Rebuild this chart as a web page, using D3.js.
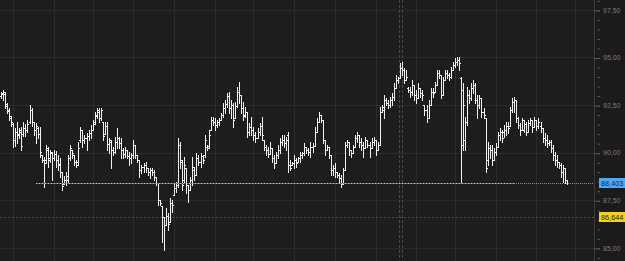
<!DOCTYPE html>
<html>
<head>
<meta charset="utf-8">
<script src="https://cdn.jsdelivr.net/npm/d3@7"></script>
<style>
  html, body { margin: 0; padding: 0; background: #1d1d1d; }
  svg { display: block; }
</style>
</head>
<body>
<svg id="chart" width="625" height="261"></svg>
<script>
// daily OHLC
const opens = [
  92.98,93.08,93.08,92.56,92.24,91.82,91.51,90.67,91.09,90.93,91.19,90.98,91.30,91.19,91.61,92.24,91.61,91.19,91.30,90.98,
  89.88,89.62,89.62,90.14,89.72,89.98,89.72,89.93,89.62,89.41,88.99,88.36,88.57,88.57,89.72,90.14,89.88,89.51,89.51,90.67,
  91.19,90.67,90.77,90.88,91.03,91.19,91.51,91.93,92.14,91.82,91.61,90.98,91.40,90.46,90.56,90.14,90.04,90.56,90.77,90.51,
  90.14,89.93,90.14,89.83,89.72,89.88,90.40,89.88,89.62,89.09,89.25,89.35,89.20,88.99,89.09,88.99,88.72,88.41,87.52,87.20,
  86.62,86.20,86.68,86.36,87.36,87.78,88.15,88.30,90.40,89.62,88.57,89.20,88.30,88.04,88.57,89.09,88.83,89.72,89.51,89.83,
  89.88,90.30,90.35,91.19,91.72,91.61,91.45,91.61,91.72,91.98,92.35,92.56,92.98,92.35,92.51,91.82,92.45,93.19,93.03,92.35,
  91.98,92.14,91.09,91.35,91.19,90.93,90.77,91.09,91.40,90.67,90.30,90.14,89.93,90.25,89.72,89.46,89.88,90.14,90.56,90.67,
  90.51,90.93,89.35,89.35,89.46,89.62,89.51,89.72,89.88,89.98,90.30,90.14,90.04,90.30,90.35,91.09,91.61,91.98,91.72,90.67,
  90.14,90.30,89.88,89.09,89.20,88.99,88.83,88.67,88.36,89.09,90.40,90.56,90.14,89.98,90.30,90.77,90.93,90.56,90.40,90.25,
  90.67,90.40,90.25,90.56,90.67,90.14,90.40,92.14,92.24,92.77,92.61,92.51,92.77,92.93,93.40,93.82,93.92,94.45,94.34,93.82,
  93.40,93.29,93.19,93.56,93.03,92.87,93.40,93.14,92.51,92.24,91.82,92.51,93.19,93.19,93.56,94.19,94.08,93.03,93.82,94.19,
  94.08,93.98,94.34,94.61,94.76,94.87,93.92,90.40,90.67,91.61,93.03,92.87,93.40,93.56,92.77,92.51,92.87,92.14,91.82,89.62,
  90.25,90.14,89.62,90.04,90.30,90.93,91.09,91.09,91.19,91.40,91.40,92.24,92.66,92.77,91.82,91.45,91.19,91.19,91.51,91.09,
  91.56,91.72,91.35,91.72,91.40,91.40,91.30,90.77,90.67,90.51,90.56,90.25,89.88,89.62,89.51,89.35,88.99,89.20,88.57
];
const highs = [
  93.19,93.29,93.19,92.61,92.35,91.93,91.56,91.30,91.61,91.30,91.35,91.61,91.51,91.72,92.51,92.35,91.61,91.56,91.35,91.35,
  89.88,89.77,90.40,90.30,90.14,90.04,90.14,90.09,89.88,89.72,88.99,88.78,88.99,89.88,90.40,90.14,89.88,89.62,90.56,91.35,
  91.19,90.93,91.03,91.19,91.45,91.72,92.14,92.35,92.35,92.35,91.61,91.61,91.61,90.77,90.67,90.30,90.82,91.30,90.82,90.77,
  90.25,90.30,90.14,90.04,89.98,90.67,90.40,89.88,89.62,89.35,89.46,89.51,89.20,89.20,89.20,89.09,88.72,88.41,87.52,87.20,
  86.62,87.10,86.83,87.62,87.52,88.41,88.46,90.77,90.56,89.62,89.77,89.20,88.30,88.72,89.77,89.25,89.98,89.88,89.98,89.88,
  90.93,90.40,91.19,91.88,91.88,91.82,91.72,91.82,92.09,92.61,92.77,93.14,93.19,92.77,92.61,92.66,93.45,93.71,93.03,92.66,
  92.40,92.14,91.56,91.88,91.35,91.09,91.30,91.56,91.88,90.67,90.40,90.30,90.56,90.25,89.88,90.04,90.40,90.77,90.93,90.93,
  90.82,91.09,89.62,89.51,89.88,89.72,89.77,90.04,90.04,90.51,90.30,90.25,90.56,90.51,91.35,91.82,92.14,91.98,91.72,90.67,
  90.40,90.30,89.88,89.35,89.46,88.99,88.93,88.83,89.20,90.56,90.67,90.56,90.14,90.40,90.93,91.09,90.93,90.77,90.56,90.82,
  90.67,90.56,90.77,90.82,90.67,90.56,92.40,92.51,93.03,92.87,92.77,92.93,93.14,93.66,94.08,93.98,94.71,94.76,94.45,94.34,
  93.45,93.45,93.82,93.56,93.29,93.66,93.40,93.29,92.51,92.51,92.77,93.40,93.40,93.71,94.34,94.34,94.08,93.98,94.34,94.34,
  94.19,94.50,94.76,94.97,95.03,95.03,93.98,93.66,91.88,93.45,93.29,93.66,93.82,93.66,93.03,93.03,92.87,92.35,91.82,90.56,
  90.40,90.40,90.25,90.51,91.09,91.30,91.19,91.45,91.61,91.61,92.40,92.87,92.93,92.77,91.88,91.56,91.82,91.72,91.61,91.72,
  91.82,91.72,91.88,91.72,91.82,91.61,91.30,91.03,90.93,90.67,90.67,90.40,90.04,89.88,89.51,89.46,89.35,89.20,88.57
];
const lows = [
  92.87,92.77,92.35,92.09,91.72,91.40,90.30,90.35,90.51,90.77,90.14,90.88,90.88,91.09,91.56,91.40,90.93,90.51,90.77,89.77,
  89.51,88.20,89.46,89.25,89.51,88.57,89.62,89.25,89.09,88.72,88.04,88.36,88.30,88.41,89.62,89.72,89.35,89.25,89.35,90.56,
  90.30,90.51,90.14,90.67,90.77,91.19,91.51,91.82,91.61,91.72,90.67,90.98,90.14,89.98,89.20,89.88,89.98,90.25,90.25,89.72,
  89.72,89.77,89.72,89.35,89.46,89.72,89.72,89.51,88.72,88.93,88.99,88.99,88.83,88.67,88.83,88.57,88.30,87.25,87.25,85.31,
  84.89,86.20,85.94,86.36,86.89,87.78,87.94,88.20,89.20,88.04,88.41,87.88,87.41,88.04,88.30,88.57,88.83,89.35,89.25,89.46,
  89.77,90.14,90.25,91.19,91.45,91.19,91.35,91.45,91.72,91.88,92.09,92.40,92.09,91.82,91.35,91.82,92.40,92.61,92.09,91.72,
  91.88,90.82,90.93,90.93,90.67,90.56,90.77,90.93,90.67,90.14,89.88,89.77,89.93,89.51,89.20,89.46,89.72,89.98,90.40,90.30,
  90.14,88.99,89.09,89.35,89.20,89.25,89.51,89.51,89.72,89.88,89.98,89.88,89.77,90.04,90.35,91.09,91.61,91.61,90.51,89.88,
  90.14,89.72,88.83,88.83,88.72,88.72,88.46,88.20,88.36,89.09,90.30,89.88,89.77,89.98,90.30,90.56,90.30,90.14,89.77,90.25,
  90.30,89.77,90.25,90.40,89.88,90.14,90.40,92.14,91.82,92.51,92.35,92.40,92.51,92.77,93.40,93.66,93.92,94.08,93.66,93.82,
  93.19,92.93,93.03,92.77,92.61,92.87,92.93,92.77,91.98,91.61,91.82,92.51,92.93,93.19,93.56,93.92,92.87,93.03,93.82,93.92,
  93.82,93.92,94.34,94.50,94.61,94.34,88.41,90.14,90.14,91.45,92.61,92.77,93.14,92.61,91.82,92.35,91.88,91.82,88.99,89.35,
  89.72,89.35,89.62,89.88,90.30,90.67,90.56,90.82,90.93,91.03,91.40,92.14,92.14,91.61,91.30,90.93,91.19,91.09,90.93,91.09,
  91.45,91.09,91.35,91.19,91.30,91.09,90.56,90.40,90.30,90.40,90.04,89.62,89.35,89.25,89.20,88.72,88.46,88.41,88.36
];
const closes = [
  93.14,93.19,92.45,92.19,91.93,91.61,90.67,91.09,90.98,91.09,90.35,91.30,91.19,91.51,92.24,91.61,91.19,91.40,90.98,90.04,
  89.62,89.46,90.25,89.62,90.04,89.72,89.93,89.62,89.35,88.99,88.25,88.57,88.78,89.72,90.25,89.98,89.51,89.35,90.25,91.19,
  90.67,90.77,90.88,91.03,91.19,91.61,91.98,92.24,91.82,92.24,90.88,91.40,90.46,90.67,90.14,90.04,90.56,90.77,90.51,90.14,
  89.93,90.14,89.83,89.72,89.88,90.40,89.88,89.62,89.09,89.25,89.35,89.20,88.99,89.09,88.99,88.72,88.41,87.52,87.36,86.62,
  86.20,86.68,86.26,87.36,87.25,88.15,88.30,90.40,89.51,88.30,89.35,88.30,88.04,88.57,89.25,88.83,89.72,89.51,89.83,89.62,
  90.67,90.25,90.93,91.72,91.61,91.45,91.61,91.72,91.98,92.35,92.56,92.98,92.35,92.51,91.72,92.45,93.19,93.03,92.35,91.93,
  92.14,91.09,91.35,91.19,90.93,90.77,91.09,91.40,90.93,90.30,90.14,89.93,90.25,89.72,89.46,89.88,90.14,90.56,90.67,90.51,
  90.67,89.35,89.20,89.46,89.62,89.46,89.72,89.88,89.98,90.30,90.14,90.04,90.30,90.35,91.09,91.61,91.98,91.72,90.67,90.14,
  90.30,89.88,89.09,89.20,88.99,88.83,88.67,88.36,89.09,90.40,90.56,90.14,89.98,90.30,90.77,90.93,90.56,90.40,90.25,90.67,
  90.40,90.25,90.56,90.67,90.14,90.40,92.14,92.40,92.77,92.61,92.51,92.77,92.93,93.40,93.82,93.92,94.45,94.34,93.82,93.98,
  93.29,93.19,93.56,93.03,92.87,93.40,93.14,93.03,92.24,91.82,92.51,93.19,93.14,93.56,94.19,94.08,93.03,93.82,94.19,94.08,
  93.98,94.34,94.61,94.76,94.87,94.71,93.29,92.51,91.61,93.03,92.87,93.40,93.56,92.77,92.51,92.87,92.14,91.98,89.20,90.25,
  90.14,89.62,90.04,90.30,90.93,91.09,90.77,91.19,91.40,91.30,92.24,92.66,92.77,91.82,91.45,91.19,91.72,91.51,91.09,91.56,
  91.72,91.35,91.72,91.40,91.61,91.30,90.77,90.67,90.51,90.56,90.25,89.88,89.62,89.51,89.35,88.99,89.20,88.57,88.403
];

const priceTicks = [85, 87.5, 90, 92.5, 95, 97.5];
const gridBars = [6, 26, 45, 65, 85, 105, 124, 144, 164, 184, 204, 223, 243, 263, 282];
const lastPrice = 88.403;
const refPrice = 86.644;
const markerBar = 196;      // dashed double line
const levelStartBar = 17;   // dotted level line at last price
const levelSplitBar = 252;

const axisX = 594;
const svg = d3.select("#chart");

const x = d3.scaleLinear().domain([0, closes.length - 1]).range([1, 567]);
const y = d3.scaleLinear().domain([85, 97.5]).range([247.9, 9.9]);
const crisp = v => Math.round(v) + 0.5;

const locale = d3.formatLocale({ decimal: ",", thousands: ".", grouping: [3], currency: ["", ""] });
const fmt2 = locale.format(".2f");
const fmt3 = locale.format(".3f");

// background panes
svg.append("rect").attr("width", 625).attr("height", 261).attr("fill", "#1d1d1d");
svg.append("rect").attr("x", axisX).attr("width", 625 - axisX).attr("height", 261).attr("fill", "#1b1b1b");

// grid
const grid = svg.append("g").attr("stroke", "#2b2b2b").attr("stroke-width", 1);
grid.selectAll("line.h").data(priceTicks).join("line")
  .attr("x1", 0).attr("x2", axisX)
  .attr("y1", d => crisp(y(d))).attr("y2", d => crisp(y(d)));
grid.selectAll("line.v").data(gridBars).join("line")
  .attr("x1", d => crisp(x(d))).attr("x2", d => crisp(x(d)))
  .attr("y1", 0).attr("y2", 261);

// reference level (dotted grey)
svg.append("line")
  .attr("x1", 0).attr("x2", axisX)
  .attr("y1", crisp(y(refPrice))).attr("y2", crisp(y(refPrice)))
  .attr("stroke", "#4c4c4c").attr("stroke-dasharray", "2,2");

// marker: double dashed vertical
svg.append("g").selectAll("line").data([-1.5, 1.5]).join("line")
  .attr("x1", d => crisp(x(markerBar) + d)).attr("x2", d => crisp(x(markerBar) + d))
  .attr("y1", 0).attr("y2", 261)
  .attr("stroke", "#4a4a4a").attr("stroke-dasharray", "3,2");

// OHLC bars, snapped to the pixel grid
svg.append("g").selectAll("path").data(closes).join("path")
  .attr("fill", "none")
  .attr("stroke", "#f2f2f2")
  .attr("stroke-width", 1)
  .attr("d", (c, i) => {
    const sx = crisp(x(i));
    const yo = crisp(y(opens[i])), yc = crisp(y(c));
    return `M${sx},${Math.round(y(highs[i]))}V${Math.round(y(lows[i])) + 1}` +
      `M${sx - 1.5},${yo}H${sx - 0.5}` +
      `M${sx + 0.5},${yc}H${sx + 1.5}`;
  });

// dotted level at last price: blue with yellow dots, then olive
const ly = crisp(y(lastPrice));
const lx0 = Math.round(x(levelStartBar)), lx1 = Math.round(x(levelSplitBar));
svg.append("line")
  .attr("x1", lx0).attr("x2", lx1).attr("y1", ly).attr("y2", ly)
  .attr("stroke", "#5a5ee6");
svg.append("line")
  .attr("x1", lx0).attr("x2", lx1).attr("y1", ly).attr("y2", ly)
  .attr("stroke", "#d8d24a").attr("stroke-dasharray", "1,2");
svg.append("line")
  .attr("x1", lx1).attr("x2", axisX).attr("y1", ly).attr("y2", ly)
  .attr("stroke", "#9a9632").attr("stroke-dasharray", "1,1");

// price axis
svg.append("line")
  .attr("x1", axisX + 0.5).attr("x2", axisX + 0.5).attr("y1", 0).attr("y2", 261)
  .attr("stroke", "#3a3a3a");

const minorTicks = d3.range(84.5, 98.01, 0.5);
const minorAxis = svg.append("g").attr("transform", `translate(${axisX + 6},0)`)
  .call(d3.axisLeft(y).tickValues(minorTicks).tickSize(2.5).tickFormat(""));
const majorAxis = svg.append("g").attr("transform", `translate(${axisX + 6},0)`)
  .call(d3.axisLeft(y).tickValues(priceTicks).tickSize(6).tickFormat(""));
const labelAxis = svg.append("g").attr("transform", `translate(${axisX + 6},0)`)
  .call(d3.axisRight(y).tickValues(priceTicks).tickSize(0).tickPadding(3).tickFormat(fmt2));

[minorAxis, majorAxis, labelAxis].forEach(g => {
  g.select(".domain").remove();
  g.selectAll("line").attr("stroke", "#5a5a5a").attr("transform", "translate(0,0.5)");
});
labelAxis.selectAll("text")
  .attr("fill", "#7c7c7c")
  .attr("font-family", "'Liberation Sans', Arial, sans-serif")
  .attr("font-size", 7);

// price tags
const tags = [
  { v: lastPrice, fill: "#4fa8f2", text: "#0d2744" },
  { v: refPrice, fill: "#f2d21a", text: "#2a2200" }
];
const tg = svg.append("g").selectAll("g").data(tags).join("g")
  .attr("transform", d => `translate(599,${Math.round(y(d.v))})`);
tg.append("rect").attr("x", 0).attr("y", -5).attr("width", 26).attr("height", 10)
  .attr("fill", d => d.fill);
tg.append("text").attr("x", 2).attr("y", 2.6)
  .attr("font-family", "'Liberation Sans', Arial, sans-serif")
  .attr("font-size", 7.3)
  .attr("fill", d => d.text)
  .text(d => fmt3(d.v));
</script>
</body>
</html>
